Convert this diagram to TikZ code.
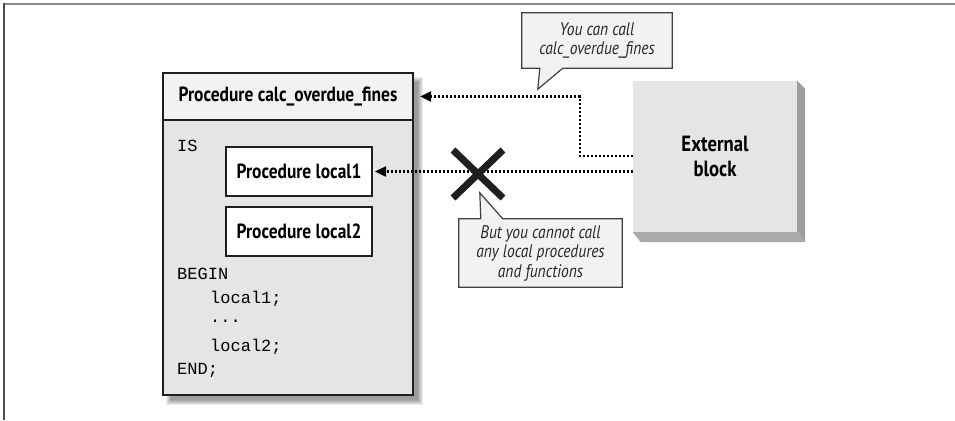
\documentclass[tikz,border=0pt]{standalone}
\usepackage{fontspec}
\setmainfont{PT Sans}[FakeStretch=0.85]
\setmonofont{Liberation Mono}
\usetikzlibrary{calc,arrows.meta,backgrounds}

\begin{document}
\begin{tikzpicture}[x=1pt,y=-1pt,
  box/.style={draw=black!88,line width=2.4pt,inner sep=0pt},
  call/.style={line width=2.4pt,dash pattern=on 2.2pt off 1.8pt,
    -{Triangle[length=11pt,width=10pt]}},
  bubble/.style={draw=black!75,line width=1.2pt,fill=black!5},
  lbl/.style={font=\fontsize{20.5}{22}\selectfont\bfseries},
  note/.style={font=\fontsize{18.2}{19.5}\selectfont\itshape,align=center,text=black!85},
  code/.style={font=\ttfamily\fontsize{17}{20}\selectfont,anchor=west,inner sep=0pt}]
  \useasboundingbox (0,0) rectangle (955,420);
  \draw[black!45,line width=2pt] (3,4) -- (955,4);
  \draw[black!70,line width=2pt] (4,3) -- (4,420);

  \foreach \r in {0,...,5}
    \fill[black,opacity=.08] (166+\r,77+\r) rectangle (423-\r,405-\r);

  \node[box,fill=black!10,minimum width=250,minimum height=275] (body) at (288,257.5) {};
  \node[box,fill=black!5,minimum width=250,minimum height=47,lbl] (hdr) at (288,96.5)
    {Procedure calc\_overdue\_fines};
  \node[box,line width=2pt,fill=white,minimum width=146,minimum height=49,lbl] (L1) at (299,171.5)
    {Procedure local1};
  \node[box,line width=2pt,fill=white,minimum width=146,minimum height=49,lbl] (L2) at (299,231.5)
    {Procedure local2};

  \node[code] (is) at (177,146) {IS};
  \node[code] (begin) at (177,274) {BEGIN};
  \node[code] (c1) at (210,299) {local1;};
  \node[code] (dots) at (210,321) {...};
  \node[code] (c2) at (210,347) {local2;};
  \node[code] (end) at (177,370) {END;};

  \node[fill=black!10,minimum width=164,minimum height=151,align=center,
    font=\fontsize{22}{25}\selectfont\bfseries] (ext) at (715,156.5) {External\\block};
  \fill[black!38] (ext.north east) -- ++(8,8) -- ($(ext.south east)+(8,10)$) -- (ext.south east) -- cycle;
  \fill[black!33] (ext.south west) -- ++(8,10) -- ($(ext.south east)+(8,10)$) -- (ext.south east) -- cycle;

  \coordinate (bend) at (580,156);
  \draw[call,shorten >=6pt] (ext.west |- bend) -- (bend) |- (hdr.east);
  \draw[call,shorten >=2pt] (ext.west |- L1) -- (L1.east);

  \coordinate (X) at (478,174);
  \draw[black!88,line width=7pt] ($(X)+(-25,-24)$) -- ($(X)+(25,24)$)
    ($(X)+(25,-24)$) -- ($(X)+(-25,24)$);

  \node[note,minimum width=150,minimum height=55] (callA) at (597,40.5)
    {You can call\\calc\_overdue\_fines};
  \node[note,minimum width=163,minimum height=68] (callB) at (540.5,253)
    {But you cannot call\\any local procedures\\and functions};
  \begin{scope}[on background layer]
    \draw[bubble] (callA.north west) -- (callA.north east) -- (callA.south east)
      -- ($(callA.south west)+(41,0)$) -- ($(callA.south west)+(16,21)$)
      -- ($(callA.south west)+(18,0)$) -- (callA.south west) -- cycle;
    \draw[bubble] (callB.south west) -- (callB.south east) -- (callB.north east)
      -- ($(callB.north west)+(44,0)$) -- ($(callB.north west)+(21,-26)$)
      -- ($(callB.north west)+(22,0)$) -- (callB.north west) -- cycle;
  \end{scope}
\end{tikzpicture}
\end{document}
